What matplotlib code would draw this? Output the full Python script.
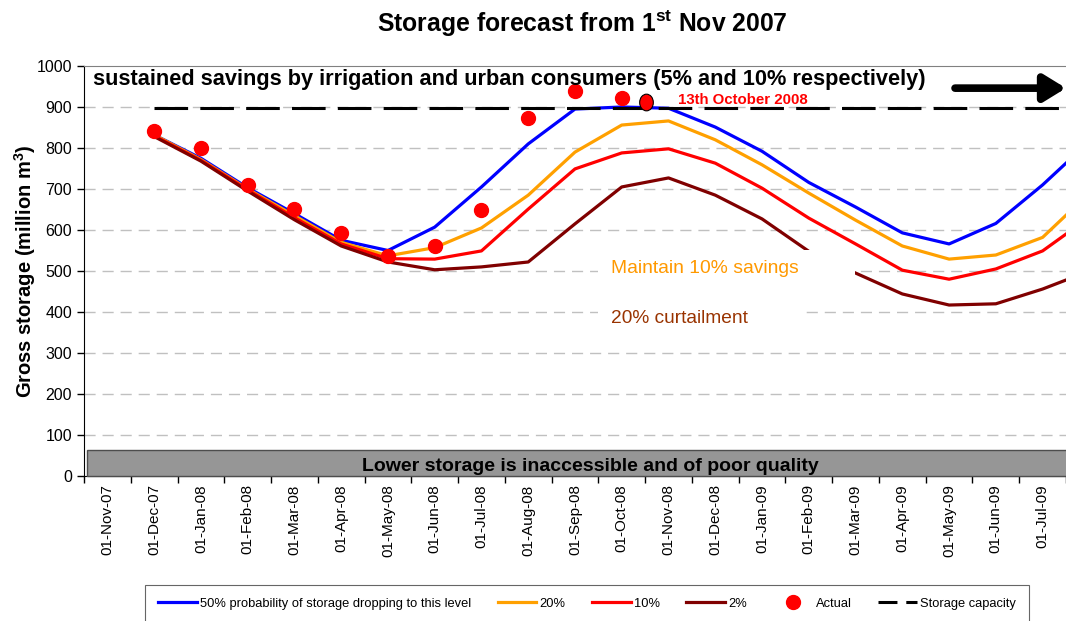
import numpy as np
import matplotlib
matplotlib.use("Agg")
import matplotlib.pyplot as plt
from matplotlib.patches import Rectangle
from matplotlib.lines import Line2D
from matplotlib.path import Path

plt.rcParams['font.family'] = 'Liberation Sans'
plt.rcParams['mathtext.fontset'] = 'custom'
plt.rcParams['mathtext.rm'] = 'Liberation Sans'
plt.rcParams['mathtext.bf'] = 'Liberation Sans:bold'

months = ['01-Nov-07', '01-Dec-07', '01-Jan-08', '01-Feb-08', '01-Mar-08', '01-Apr-08',
          '01-May-08', '01-Jun-08', '01-Jul-08', '01-Aug-08', '01-Sep-08', '01-Oct-08',
          '01-Nov-08', '01-Dec-08', '01-Jan-09', '01-Feb-09', '01-Mar-09', '01-Apr-09',
          '01-May-09', '01-Jun-09', '01-Jul-09', '01-Aug-09']

nan = np.nan
p50 = [nan, 832, 775, 703, 640, 575, 550, 607, 705, 810, 895, 900, 897, 851, 792, 716,
       656, 593, 566, 616, 710, 816]
p20 = [nan, 832, 772, 700, 635, 570, 537, 557, 605, 685, 790, 856, 866, 820, 759, 690,
       624, 561, 529, 539, 582, 690]
p10 = [nan, 830, 770, 698, 630, 566, 530, 529, 549, 651, 749, 788, 798, 763, 702, 629,
       566, 502, 480, 505, 549, 631]
p2 = [nan, 828, 768, 695, 625, 561, 522, 503, 510, 522, 615, 705, 727, 685, 627, 548,
      495, 444, 417, 420, 456, 500]
actual = [nan, 842, 801, 710, 651, 593, 537, 562, 649, 874, 938, 923]
capacity = [nan] + [898] * 21

# latest reading, 13th October 2008
oct13_x = 11.52
oct13_val = 912

x = np.arange(len(months))

fig = plt.figure(figsize=(10.66, 6.21), dpi=100)
ax = fig.add_axes([84 / 1066, 1 - 476 / 621, 1 - 84 / 1066, 410 / 621])

ax.plot(x, p50, color='#0000ff', lw=2.3, zorder=3,
        label='50% probability of storage dropping to this level')
ax.plot(x, p20, color='#ffa000', lw=2.3, zorder=3, label='20%')
ax.plot(x, p10, color='#ff0000', lw=2.3, zorder=3, label='10%')
ax.plot(x, p2, color='#800000', lw=2.3, zorder=3, label='2%')
ax.plot(x[:len(actual)], actual, 'o', color='#ff0000', ms=10, zorder=6, label='Actual')
circ = Path.unit_circle()
ell = Path(circ.vertices * [0.82, 1.0], circ.codes)
ax.plot([oct13_x], [oct13_val], marker=ell, ls='none', mfc='#ff0000', mec='black',
        mew=0.8, ms=12, zorder=6)
ax.plot(x, capacity, color='black', lw=2.2, ls=(0, (11, 4)), zorder=5)

ax.set_yticks(np.arange(0, 1001, 100))
ax.tick_params(axis='y', labelsize=11.5, direction='out', length=5, width=1, color='black')

ax.set_xticks(np.arange(-0.5, 21, 1))
ax.set_xticklabels([])
ax.set_xticks(x, minor=True)
ax.set_xticklabels(months, minor=True, rotation=90, fontsize=11)
ax.tick_params(axis='x', which='major', direction='out', length=5, width=1, color='black')
ax.tick_params(axis='x', which='minor', length=0, pad=6)
ax.set_xlim(-0.5, 20.5)
ax.set_ylim(0, 1000)

for v in range(100, 1000, 100):
    ax.axhline(v, color='#c0c0c0', lw=1, ls=(0, (8, 5)), zorder=1)

ax.spines['right'].set_visible(False)
ax.spines['top'].set_color('#808080')
ax.spines['left'].set_color('black')
ax.spines['bottom'].set_color('black')

# grey band at the bottom
ax.add_patch(Rectangle((0.003, 0), 1.0, 64, transform=ax.get_yaxis_transform(),
                       facecolor='#969696', edgecolor='#4d4d4d', lw=1, zorder=4, clip_on=False))
ax.text(0.516, 23, 'Lower storage is inaccessible and of poor quality',
        transform=ax.get_yaxis_transform(), ha='center', va='center',
        fontsize=14, fontweight='bold', zorder=5)

# white boxes behind scenario notes
ax.add_patch(Rectangle((10.5, 449), 5.49, 102, facecolor='white', edgecolor='none', zorder=4))
ax.add_patch(Rectangle((10.5, 344), 4.42, 105, facecolor='white', edgecolor='none', zorder=4))
ax.text(10.78, 507, 'Maintain 10% savings', color='#ff9900', fontsize=13.9,
        va='center', ha='left', zorder=5)
ax.text(10.78, 385, '20% curtailment', color='#993300', fontsize=13.8,
        va='center', ha='left', zorder=5)

ax.text(0.009, 0.966,
        'sustained savings by irrigation and urban consumers (5% and 10% respectively)',
        transform=ax.transAxes, fontsize=15.7, fontweight='bold', va='center', ha='left',
        zorder=7)
ax.annotate('', xy=(1.0, 0.946), xytext=(0.887, 0.946), xycoords='axes fraction',
            arrowprops=dict(arrowstyle='-|>,head_width=0.8,head_length=1.3', lw=5.5,
                            color='black', shrinkA=0, shrinkB=0), zorder=7)
ax.text(12.2, 917, '13th October 2008', color='#ff0000', fontsize=10.8,
        fontweight='bold', va='center', ha='left', zorder=7)

fig.text(582 / 1066, 1 - 24 / 621, r'Storage forecast from 1$^{\mathbf{st}}$ Nov 2007',
         ha='center', va='center', fontsize=17.8, fontweight='bold')
fig.text(25 / 1066, 1 - 271 / 621, r'Gross storage (million m$^{\mathbf{3}}$)',
         ha='center', va='center', rotation=90, fontsize=14.5, fontweight='bold')

handles, labels = ax.get_legend_handles_labels()
handles.append(Line2D([], [], color='black', lw=2.2, ls=(0, (6.2, 2.9))))
labels.append('Storage capacity')
leg = fig.legend(handles, labels, loc='upper left',
                 bbox_to_anchor=(145 / 1066, 1 - 585 / 621), ncol=6,
                 fontsize=9.3, frameon=True, fancybox=False, edgecolor='#404040',
                 handlelength=3.0, handletextpad=0.25, columnspacing=2.05,
                 borderpad=1.0, borderaxespad=0)
leg.get_frame().set_linewidth(0.8)

fig.savefig('out.png', dpi=100)
